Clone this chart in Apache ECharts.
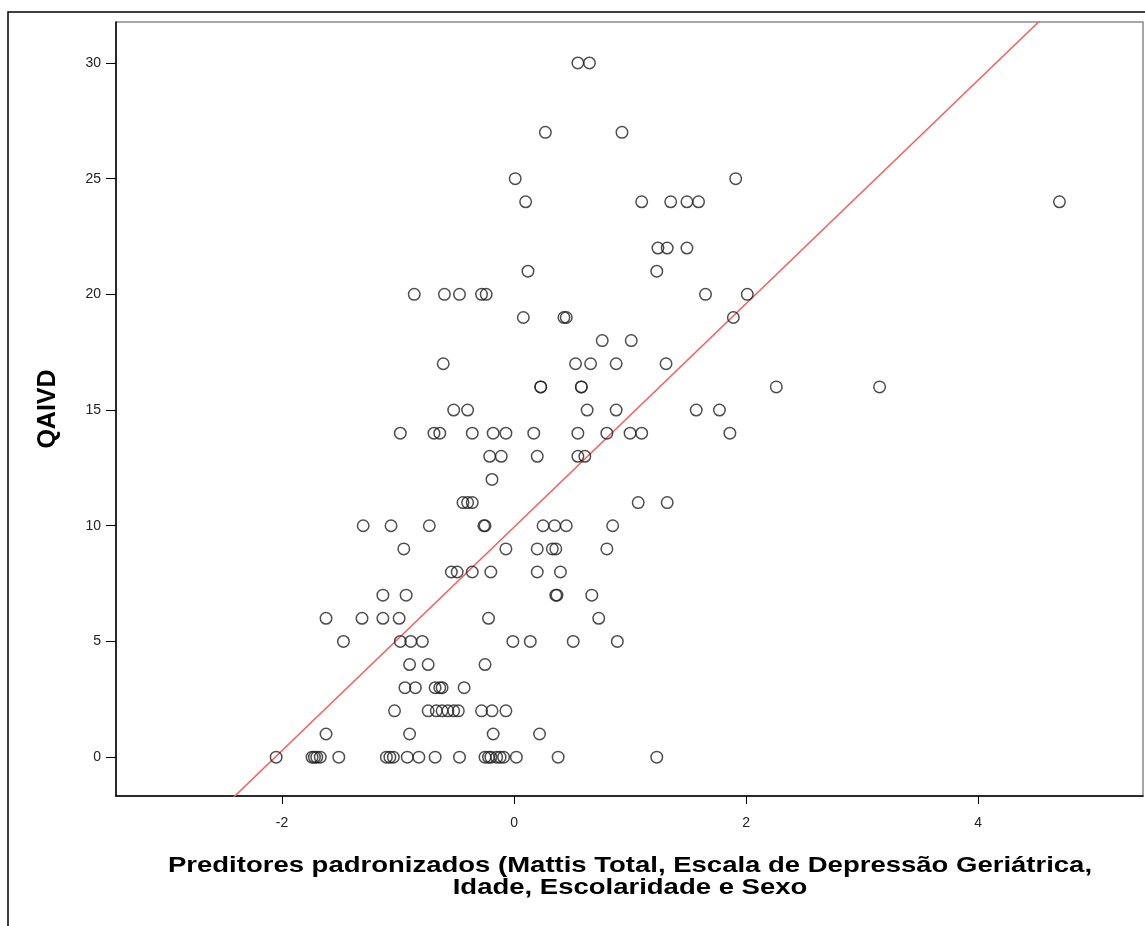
<!DOCTYPE html>
<html>
<head>
<meta charset="utf-8">
<title>QAIVD</title>
<script src="https://cdn.jsdelivr.net/npm/echarts@6/dist/echarts.min.js"></script>
<style>
    html, body { margin: 0; padding: 0; background: #fff; }
    #main { width: 1145px; height: 926px; }
</style>
</head>
<body>
<div id="main"></div>
<script>
// valores (uma linha por valor de QAIVD)
var preditores = [
    0.55, 0.65,                                                       // 30
    0.27, 0.93,                                                       // 27
    0.01, 1.91,                                                       // 25
    0.10, 1.10, 1.35, 1.49, 1.59, 4.70,                               // 24
    1.24, 1.32, 1.49,                                                 // 22
    0.12, 1.23,                                                       // 21
    -0.86, -0.60, -0.47, -0.28, -0.24, 1.65, 2.01,                    // 20
    0.08, 0.43, 0.45, 1.89,                                           // 19
    0.76, 1.01,                                                       // 18
    -0.61, 0.53, 0.66, 0.88, 1.31,                                    // 17
    0.23, 0.23, 0.58, 0.58, 2.26, 3.15,                               // 16
    -0.52, -0.40, 0.63, 0.88, 1.57, 1.77,                             // 15
    -0.98, -0.69, -0.64, -0.36, -0.18, -0.07, 0.17, 0.55, 0.80, 1.00, 1.10, 1.86, // 14
    -0.21, -0.11, 0.20, 0.55, 0.61,                                   // 13
    -0.19,                                                            // 12
    -0.44, -0.40, -0.36, 1.07, 1.32,                                  // 11
    -1.30, -1.06, -0.73, -0.26, -0.25, 0.25, 0.35, 0.45, 0.85,        // 10
    -0.95, -0.07, 0.20, 0.33, 0.36, 0.80,                             // 9
    -0.54, -0.49, -0.36, -0.20, 0.20, 0.40,                           // 8
    -1.13, -0.93, 0.36, 0.37, 0.67,                                   // 7
    -1.62, -1.31, -1.13, -0.99, -0.22, 0.73,                          // 6
    -1.47, -0.98, -0.89, -0.79, -0.01, 0.14, 0.51, 0.89,              // 5
    -0.90, -0.74, -0.25,                                              // 4
    -0.94, -0.85, -0.68, -0.64, -0.62, -0.43,                         // 3
    -1.03, -0.74, -0.67, -0.62, -0.57, -0.52, -0.48, -0.28, -0.19, -0.07, // 2
    -1.62, -0.90, -0.18, 0.22,                                        // 1
    -2.05, -1.74, -1.72, -1.70, -1.67, -1.51, -1.10, -1.07, -1.04, -0.92, -0.82,
    -0.68, -0.47, -0.25, -0.22, -0.20, -0.15, -0.12, -0.09, 0.02, 0.38, 1.23 // 0
];
var qaivd = [
    30, 30,
    27, 27,
    25, 25,
    24, 24, 24, 24, 24, 24,
    22, 22, 22,
    21, 21,
    20, 20, 20, 20, 20, 20, 20,
    19, 19, 19, 19,
    18, 18,
    17, 17, 17, 17, 17,
    16, 16, 16, 16, 16, 16,
    15, 15, 15, 15, 15, 15,
    14, 14, 14, 14, 14, 14, 14, 14, 14, 14, 14, 14,
    13, 13, 13, 13, 13,
    12,
    11, 11, 11, 11, 11,
    10, 10, 10, 10, 10, 10, 10, 10, 10,
    9, 9, 9, 9, 9, 9,
    8, 8, 8, 8, 8, 8,
    7, 7, 7, 7, 7,
    6, 6, 6, 6, 6, 6,
    5, 5, 5, 5, 5, 5, 5, 5,
    4, 4, 4,
    3, 3, 3, 3, 3, 3,
    2, 2, 2, 2, 2, 2, 2, 2, 2, 2,
    1, 1, 1, 1,
    0, 0, 0, 0, 0, 0, 0, 0, 0, 0, 0,
    0, 0, 0, 0, 0, 0, 0, 0, 0, 0, 0
];
var xTicks = [-2, 0, 2, 4];
var yTicks = [0, 5, 10, 15, 20, 25, 30];
// reta de ajuste
var intercepto = 9.94;
var inclinacao = 4.83;
var xMin = -3.43, xMax = 5.42;
var yMin = -1.68, yMax = 31.77;
var tituloX = 'Preditores padronizados (Mattis Total, Escala de Depressão Geriátrica,\nIdade, Escolaridade e Sexo';

var pontos = [];
for (var i = 0; i < preditores.length; i++) {
    pontos.push([preditores[i], qaivd[i]]);
}
var reta = [
    [xMin, intercepto + inclinacao * xMin],
    [xMax, intercepto + inclinacao * xMax]
];

var fonte = '"Liberation Sans", Arial, sans-serif';
var chart = echarts.init(document.getElementById('main'), null, { renderer: 'canvas' });

var option = {
    backgroundColor: '#fff',
    animation: false,
    graphic: [
        {
            // moldura externa
            type: 'rect',
            shape: { x: 8, y: 12, width: 1200, height: 1000 },
            style: { fill: 'none', stroke: '#000', lineWidth: 1.5 },
            silent: true
        },
        {
            // titulo do eixo x (o original esta esticado na horizontal)
            type: 'text',
            x: 630,
            y: 855,
            scaleX: 1.25,
            style: {
                text: tituloX,
                textAlign: 'center',
                textVerticalAlign: 'top',
                fontFamily: fonte,
                fontWeight: 'bold',
                fontSize: 22,
                lineHeight: 22,
                fill: '#000'
            },
            silent: true
        }
    ],
    grid: {
        left: 116,
        right: 2,
        top: 22,
        bottom: 130,
        show: true,
        borderColor: '#8a8a8a',
        borderWidth: 1.5,
        backgroundColor: '#fff'
    },
    xAxis: {
        type: 'value',
        min: xMin,
        max: xMax,
        splitLine: { show: false },
        axisLine: { onZero: false, lineStyle: { color: '#000', width: 1.5 } },
        axisTick: { length: 8, customValues: xTicks, lineStyle: { color: '#000', width: 1 } },
        axisLabel: {
            customValues: xTicks,
            color: '#222',
            fontFamily: fonte,
            fontSize: 14,
            margin: 20
        }
    },
    yAxis: {
        type: 'value',
        min: yMin,
        max: yMax,
        name: 'QAIVD',
        nameLocation: 'middle',
        nameRotate: 90,
        nameGap: 55,
        nameTextStyle: {
            fontFamily: fonte,
            fontWeight: 'bold',
            fontSize: 25,
            color: '#000'
        },
        splitLine: { show: false },
        axisLine: { onZero: false, lineStyle: { color: '#000', width: 1.5 } },
        axisTick: { length: 10, customValues: yTicks, lineStyle: { color: '#000', width: 1 } },
        axisLabel: {
            customValues: yTicks,
            color: '#222',
            fontFamily: fonte,
            fontSize: 14,
            margin: 15
        }
    },
    series: [
        {
            name: 'reta',
            type: 'line',
            data: reta,
            symbol: 'none',
            clip: true,
            lineStyle: { color: '#f26161', width: 1.5 },
            z: 1
        },
        {
            name: 'QAIVD',
            type: 'scatter',
            data: pontos,
            symbol: 'circle',
            symbolSize: 11.5,
            itemStyle: {
                color: 'rgba(0,0,0,0)',
                borderColor: '#222',
                borderWidth: 1.5
            },
            z: 2
        }
    ]
};
chart.setOption(option);
</script>
</body>
</html>
